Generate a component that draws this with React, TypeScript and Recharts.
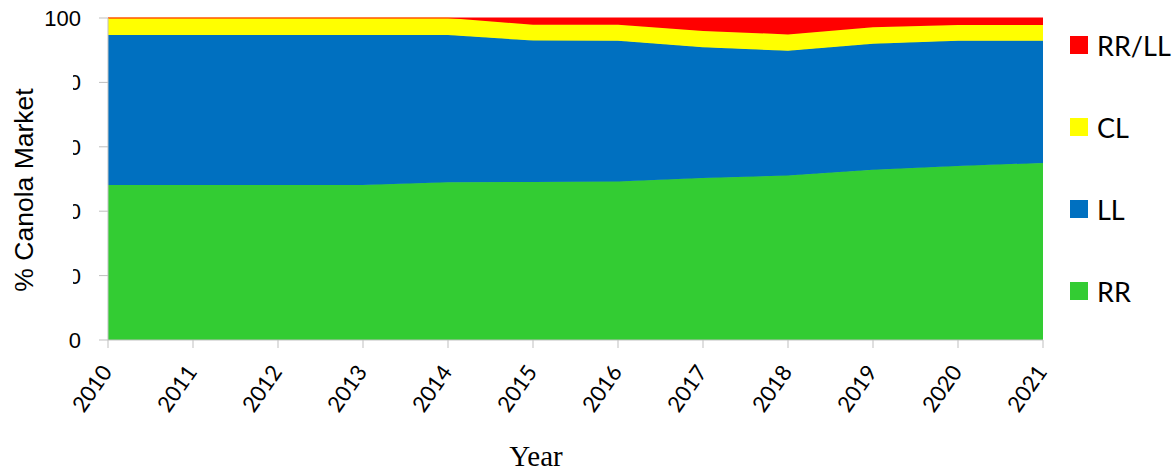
import { Area, AreaChart, Legend, XAxis, YAxis } from "recharts";

const years = ["2010", "2011", "2012", "2013", "2014", "2015", "2016", "2017", "2018", "2019", "2020", "2021"];
const rr = [48.1, 48.1, 48.1, 48.1, 49.0, 49.1, 49.2, 50.3, 51.1, 52.9, 54.0, 55.0];
const ll = [46.6, 46.6, 46.6, 46.6, 45.7, 43.9, 43.7, 40.6, 38.7, 39.1, 38.9, 37.9];
const cl = [5.3, 5.3, 5.3, 5.3, 5.3, 4.9, 5.0, 5.1, 5.1, 5.1, 4.9, 4.9];
const rrll = [0, 0, 0, 0, 0, 2.1, 2.1, 4.0, 5.1, 2.9, 2.2, 2.2];
const yTicks = [0, 20, 40, 60, 80, 100];

// stacking order, bottom to top
const seriesKeys = ["RR", "LL", "CL", "RR/LL"];
const seriesColors = ["#33CC33", "#0070C0", "#FFFF00", "#FF0000"];

const data = years.map((year, i) => ({
  year,
  RR: rr[i],
  LL: ll[i],
  CL: cl[i],
  "RR/LL": rrll[i],
}));

const axisColor = "#bfbfbf";

function YTick({ x, y, payload }: any) {
  const v = payload.value;
  const clipped = v !== 0 && v !== 100;
  return (
    <g>
      {clipped && (
        <defs>
          <clipPath id={`yclip-${v}`}>
            <rect x={73} y={y - 20} width={40} height={40} />
          </clipPath>
        </defs>
      )}
      <text
        x={x}
        y={y}
        dy="0.36em"
        textAnchor="end"
        fontSize={22}
        fontFamily="Liberation Sans, Arial, sans-serif"
        fill="#000"
        clipPath={clipped ? `url(#yclip-${v})` : undefined}
      >
        {v}
      </text>
    </g>
  );
}

function XTick({ x, y, payload }: any) {
  const tx = x + 5;
  const ty = y + 24;
  return (
    <text
      x={tx}
      y={ty}
      transform={`rotate(-55, ${tx}, ${ty})`}
      textAnchor="end"
      fontSize={22}
      fontFamily="Lato, sans-serif"
      fill="#000"
    >
      {payload.value}
    </text>
  );
}

function LegendBox({ payload }: any) {
  // top of the stack first
  const items = (payload || [])
    .slice()
    .sort((a: any, b: any) => seriesKeys.indexOf(b.value) - seriesKeys.indexOf(a.value));
  return (
    <div style={{ width: 103 }}>
      {items.map((entry: any) => (
        <div
          key={entry.value}
          style={{ height: 82, display: "flex", alignItems: "center" }}
        >
          <span
            style={{
              width: 18,
              height: 18,
              background: entry.color,
              display: "inline-block",
              marginRight: 9,
            }}
          />
          <span style={{ fontFamily: "Lato, sans-serif", fontSize: 27, color: "#000" }}>
            {entry.value}
          </span>
        </div>
      ))}
    </div>
  );
}

export default function App() {
  return (
    <div style={{ position: "absolute", left: 0, top: 0, background: "#fff" }}>
      <AreaChart
        width={1173}
        height={472}
        data={data}
        margin={{ top: 18, right: 27, bottom: 0, left: 0 }}
      >
        <XAxis
          dataKey="year"
          height={132}
          tickSize={8}
          tickMargin={0}
          stroke={axisColor}
          tick={<XTick />}
          interval={0}
          label={{
            content: () => (
              <text
                x={536}
                y={466}
                textAnchor="middle"
                fontSize={29}
                fontFamily="Liberation Serif, Times New Roman, serif"
                fill="#000"
              >
                Year
              </text>
            ),
          }}
        />
        <YAxis
          width={108}
          domain={[0, 100]}
          ticks={yTicks}
          tickSize={9}
          tickMargin={18}
          stroke={axisColor}
          tick={<YTick />}
          label={{
            content: () => (
              <text
                x={33}
                y={190}
                transform="rotate(-90, 33, 190)"
                textAnchor="middle"
                fontSize={26.5}
                fontFamily="Liberation Sans, Arial, sans-serif"
                fill="#000"
              >
                % Canola Market
              </text>
            ),
          }}
        />
        <Legend
          layout="vertical"
          align="right"
          verticalAlign="top"
          content={<LegendBox />}
          wrapperStyle={{ left: 1070, top: 4, right: "auto" }}
        />
        {seriesKeys.map((key, i) => (
          <Area
            key={key}
            type="linear"
            dataKey={key}
            stackId="a"
            fill={seriesColors[i]}
            stroke={seriesColors[i]}
            fillOpacity={1}
            isAnimationActive={false}
          />
        ))}
      </AreaChart>
    </div>
  );
}
